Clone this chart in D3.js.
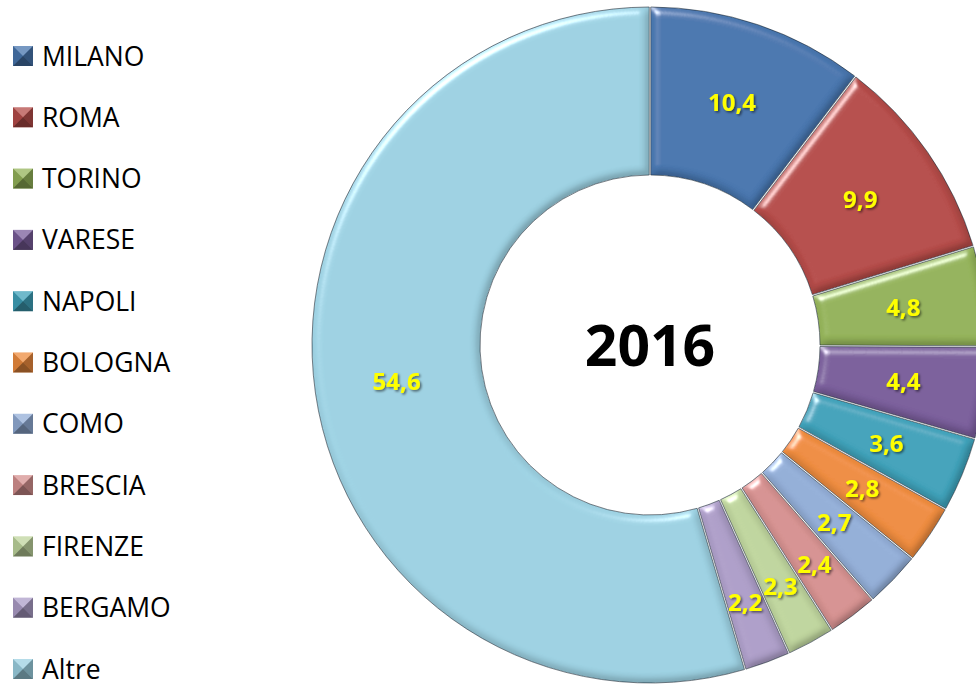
<!DOCTYPE html>
<html>
<head>
<meta charset="utf-8">
<script src="https://cdn.jsdelivr.net/npm/d3@7"></script>
<style>
  body { margin: 0; background: #fff; }
  svg { display: block; }
</style>
</head>
<body>
<div id="chart"></div>
<script>
// data (values in %)
const cities = ["MILANO", "ROMA", "TORINO", "VARESE", "NAPOLI", "BOLOGNA", "COMO", "BRESCIA", "FIRENZE", "BERGAMO", "Altre"];
const shares = [10.4, 9.9, 4.8, 4.4, 3.6, 2.8, 2.7, 2.4, 2.3, 2.2, 54.6];
const labels = ["10,4", "9,9", "4,8", "4,4", "3,6", "2,8", "2,7", "2,4", "2,3", "2,2", "54,6"];
const colors = ["#4876ae", "#b54c49", "#94b35a", "#7a5e9b", "#40a2ba", "#ee8c3f", "#93aed7", "#d69291", "#bfd59e", "#ad9ec8", "#9dd1e2"];
const year = "2016";

const width = 976, height = 689;
const cx = 650, cy = 345;
const outerR = 338, innerR = 170;

const svg = d3.select("#chart").append("svg")
  .attr("width", width)
  .attr("height", height);

// bevel look, like the office chart
const defs = svg.append("defs");
const bevel = defs.append("filter").attr("id", "bevel")
  .attr("x", "-5%").attr("y", "-5%").attr("width", "110%").attr("height", "110%");
bevel.append("feGaussianBlur").attr("in", "SourceAlpha").attr("stdDeviation", 4.5).attr("result", "blur");
bevel.append("feSpecularLighting")
  .attr("in", "blur").attr("surfaceScale", 5).attr("specularConstant", 0.75)
  .attr("specularExponent", 35).attr("lighting-color", "#ffffff").attr("result", "spec")
  .append("feDistantLight").attr("azimuth", 235).attr("elevation", 35);
bevel.append("feComposite").attr("in", "spec").attr("in2", "SourceAlpha").attr("operator", "in").attr("result", "specIn");
bevel.append("feDiffuseLighting")
  .attr("in", "blur").attr("surfaceScale", 5).attr("diffuseConstant", 1.15)
  .attr("lighting-color", "#ffffff").attr("result", "diff")
  .append("feDistantLight").attr("azimuth", 235).attr("elevation", 60);
bevel.append("feComposite").attr("in", "SourceGraphic").attr("in2", "diff")
  .attr("operator", "arithmetic").attr("k1", 1).attr("k2", 0).attr("k3", 0).attr("k4", 0).attr("result", "lit");
bevel.append("feComposite").attr("in", "lit").attr("in2", "SourceGraphic")
  .attr("operator", "arithmetic").attr("k1", 0).attr("k2", 0.65).attr("k3", 0.35).attr("k4", 0).attr("result", "mix");
bevel.append("feComposite").attr("in", "mix").attr("in2", "specIn")
  .attr("operator", "arithmetic").attr("k1", 0).attr("k2", 1).attr("k3", 1).attr("k4", 0).attr("result", "out");
bevel.append("feComposite").attr("in", "out").attr("in2", "SourceAlpha").attr("operator", "in");

const shadow = defs.append("filter").attr("id", "txtShadow");
shadow.append("feDropShadow").attr("dx", 1.5).attr("dy", 1.5).attr("stdDeviation", 1)
  .attr("flood-color", "#000").attr("flood-opacity", 0.55);

const color = d3.scaleOrdinal().domain(cities).range(colors);

const pie = d3.pie().sort(null).value((d, i) => shares[i]);
const arcs = pie(cities);

const arc = d3.arc().innerRadius(innerR).outerRadius(outerR).padAngle(0.004);

const g = svg.append("g").attr("transform", `translate(${cx},${cy})`);

g.selectAll("path.slice")
  .data(arcs)
  .enter().append("path")
  .attr("class", "slice")
  .attr("d", arc)
  .attr("fill", d => color(d.data))
  .attr("filter", "url(#bevel)");

g.selectAll("path.edge")
  .data(arcs)
  .enter().append("path")
  .attr("class", "edge")
  .attr("d", arc)
  .attr("fill", "none")
  .attr("stroke", "#1d2a36")
  .attr("stroke-opacity", 0.6)
  .attr("stroke-width", 1);

// value labels
const labelArc = d3.arc().innerRadius(256).outerRadius(256);
const smallArc = d3.arc().innerRadius(274).outerRadius(274);

g.selectAll("text.val")
  .data(arcs)
  .enter().append("text")
  .attr("class", "val")
  .attr("transform", (d, i) => `translate(${(shares[i] < 2.5 ? smallArc : labelArc).centroid(d)})`)
  .attr("text-anchor", "middle")
  .attr("dy", "0.36em")
  .attr("font-family", "'Open Sans', sans-serif")
  .attr("font-weight", 700)
  .attr("font-size", 24)
  .attr("fill", "#ffff00")
  .attr("filter", "url(#txtShadow)")
  .text((d, i) => labels[i]);

g.append("text")
  .attr("text-anchor", "middle")
  .attr("dy", "0.36em")
  .attr("font-family", "'Open Sans', sans-serif")
  .attr("font-weight", 700)
  .attr("font-size", 57)
  .attr("fill", "#000")
  .text(year);

// legend
const y = d3.scalePoint().domain(cities).range([56, 669]);

const legend = svg.append("g").selectAll("g")
  .data(cities)
  .enter().append("g")
  .attr("transform", d => `translate(13,${y(d) - 10})`);

legend.append("rect")
  .attr("width", 20).attr("height", 20)
  .attr("fill", d => color(d));

const facets = [
  { pts: "0,0 20,0 10,10", fill: "#fff", op: 0.25 },
  { pts: "0,0 10,10 0,20", fill: "#000", op: 0.12 },
  { pts: "20,0 20,20 10,10", fill: "#000", op: 0.3 },
  { pts: "0,20 10,10 20,20", fill: "#000", op: 0.42 }
];
facets.forEach(f => {
  legend.append("polygon")
    .attr("points", f.pts)
    .attr("fill", f.fill)
    .attr("fill-opacity", f.op);
});

legend.append("text")
  .attr("x", 29)
  .attr("y", 10)
  .attr("dy", "0.36em")
  .attr("font-family", "'Open Sans', sans-serif")
  .attr("font-size", 26.5)
  .attr("fill", "#000")
  .text(d => d);
</script>
</body>
</html>
